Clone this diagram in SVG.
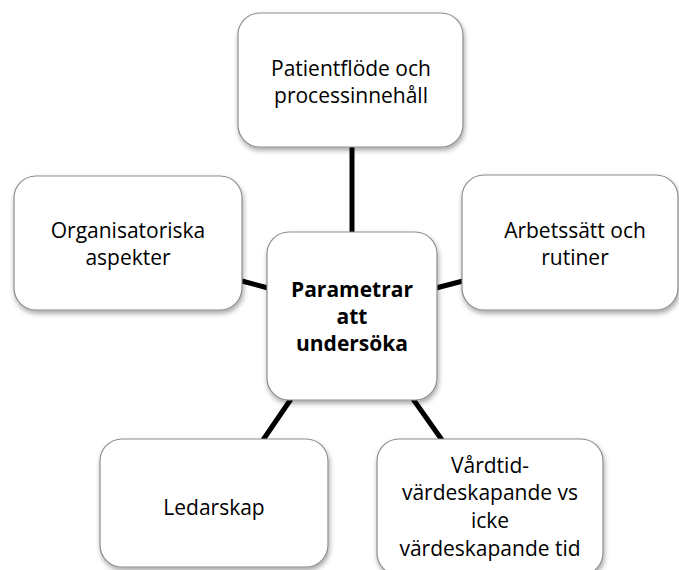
<svg xmlns="http://www.w3.org/2000/svg" width="679" height="570" viewBox="0 0 679 570">
<defs>
<filter id="sh" x="-10%" y="-10%" width="125%" height="130%">
<feDropShadow dx="1" dy="3" stdDeviation="2.5" flood-color="#000" flood-opacity="0.35"/>
</filter>
<style>
.box{fill:#fff;stroke:#8c8c8c;stroke-width:1.2;filter:url(#sh)}
.t{font-family:"Open Sans","Noto Sans",sans-serif;font-size:21px;fill:#000;text-anchor:middle}
.b{font-family:"Open Sans","Noto Sans",sans-serif;font-size:21px;font-weight:bold;fill:#000;text-anchor:middle}
.c{stroke:#000;stroke-width:5;fill:none}
</style>
</defs>
<rect width="679" height="570" fill="#fff"/>
<g id="connectors">
<line class="c" x1="352" y1="147" x2="352" y2="233"/>
<line class="c" x1="242" y1="281" x2="268" y2="288"/>
<line class="c" x1="436" y1="288" x2="463" y2="281"/>
<line class="c" x1="291" y1="399" x2="263" y2="440"/>
<line class="c" x1="413" y1="399" x2="442" y2="440"/>
</g>
<g id="n-top">
<rect class="box" x="238" y="13" width="225" height="134" rx="22"/>
<text class="t" x="351" y="76">Patientflöde och</text>
<text class="t" x="351" y="103">processinnehåll</text>
</g>
<g id="n-left">
<rect class="box" x="14" y="176" width="228" height="134" rx="22"/>
<text class="t" x="128" y="238">Organisatoriska</text>
<text class="t" x="128" y="265">aspekter</text>
</g>
<g id="n-right">
<rect class="box" x="462" y="175" width="216" height="135" rx="22"/>
<text class="t" x="575" y="238">Arbetssätt och</text>
<text class="t" x="575" y="265">rutiner</text>
</g>
<g id="n-center">
<rect class="box" x="267" y="232" width="170" height="168" rx="22"/>
<text class="b" x="352" y="297">Parametrar</text>
<text class="b" x="352" y="324">att</text>
<text class="b" x="352" y="351">undersöka</text>
</g>
<g id="n-ledarskap">
<rect class="box" x="100" y="439" width="228" height="128" rx="22"/>
<text class="t" x="214" y="515">Ledarskap</text>
</g>
<g id="n-vardtid">
<rect class="box" x="377" y="439" width="226" height="136" rx="22"/>
<text class="t" x="490" y="473">Vårdtid-</text>
<text class="t" x="490" y="500">värdeskapande vs</text>
<text class="t" x="490" y="528">icke</text>
<text class="t" x="490" y="556">värdeskapande tid</text>
</g>
</svg>
